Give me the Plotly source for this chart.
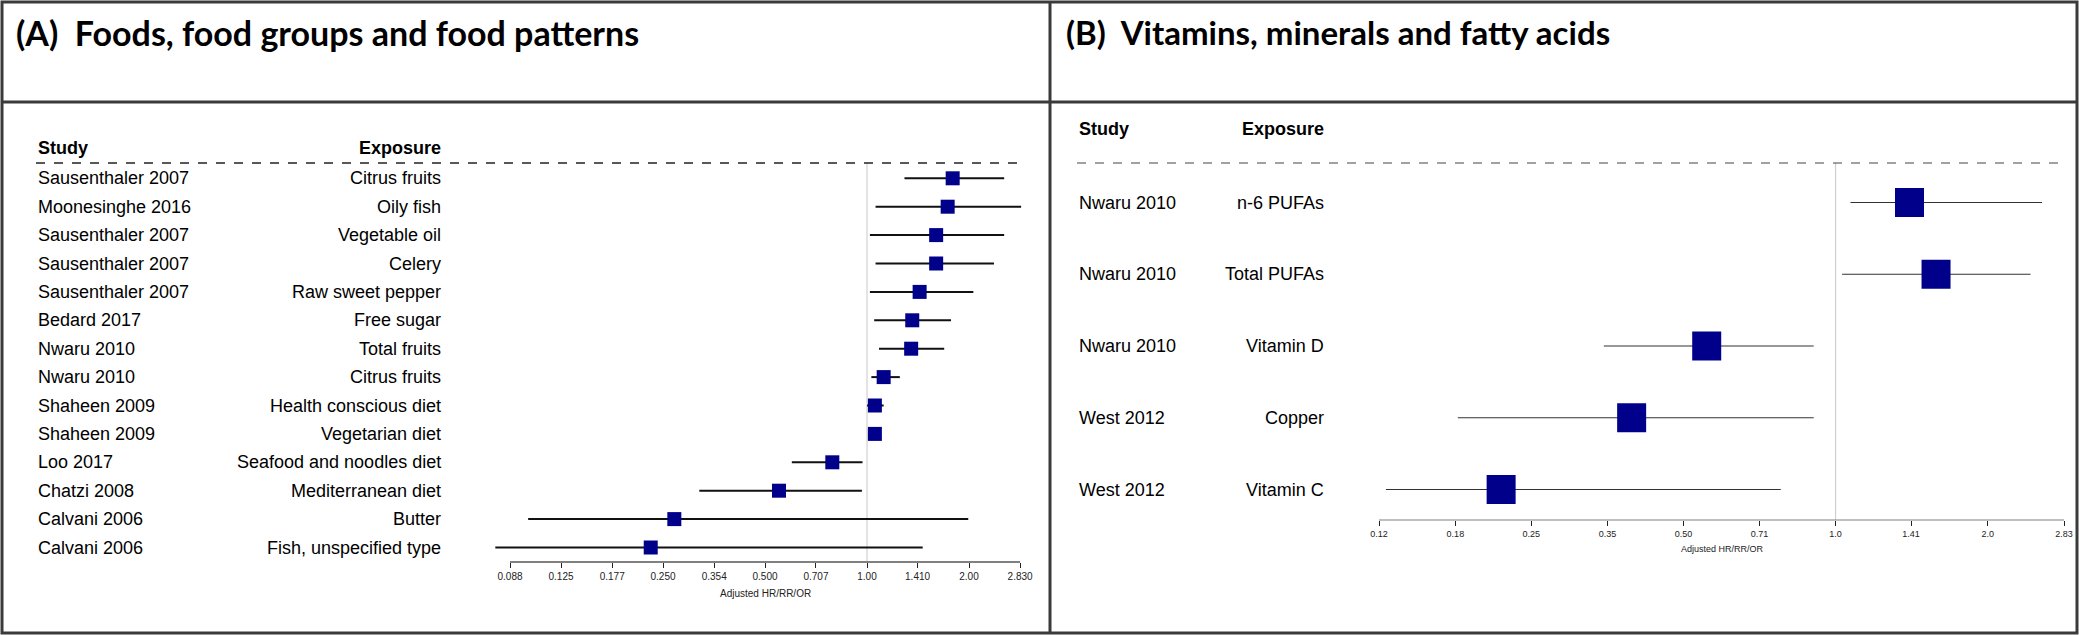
import math
import plotly.graph_objects as go

W, H = 2079, 635

# ---------------- Panel A data ----------------
a_study = ["Sausenthaler 2007", "Moonesinghe 2016", "Sausenthaler 2007", "Sausenthaler 2007",
           "Sausenthaler 2007", "Bedard 2017", "Nwaru 2010", "Nwaru 2010", "Shaheen 2009",
           "Shaheen 2009", "Loo 2017", "Chatzi 2008", "Calvani 2006", "Calvani 2006"]
a_exposure = ["Citrus fruits", "Oily fish", "Vegetable oil", "Celery", "Raw sweet pepper",
              "Free sugar", "Total fruits", "Citrus fruits", "Health conscious diet",
              "Vegetarian diet", "Seafood and noodles diet", "Mediterranean diet", "Butter",
              "Fish, unspecified type"]
a_hr = [1.79, 1.73, 1.60, 1.60, 1.43, 1.36, 1.35, 1.12, 1.055, 1.055, 0.79, 0.55, 0.27, 0.23]
a_lo = [1.29, 1.06, 1.02, 1.06, 1.02, 1.05, 1.085, 1.03, 1.00, 1.01, 0.60, 0.32, 0.10, 0.08]
a_hi = [2.54, 2.85, 2.54, 2.37, 2.06, 1.77, 1.69, 1.25, 1.12, 1.09, 0.97, 0.966, 1.99, 1.46]
a_tickvals = [0.0884, 0.125, 0.177, 0.25, 0.354, 0.5, 0.707, 1.0, 1.41, 2.0, 2.83]
a_ticktext = ["0.088", "0.125", "0.177", "0.250", "0.354", "0.500", "0.707", "1.00", "1.410", "2.00", "2.830"]

# ---------------- Panel B data ----------------
b_study = ["Nwaru 2010", "Nwaru 2010", "Nwaru 2010", "West 2012", "West 2012"]
b_exposure = ["n-6 PUFAs", "Total PUFAs", "Vitamin D", "Copper", "Vitamin C"]
b_hr = [1.40, 1.58, 0.556, 0.395, 0.218]
b_lo = [1.07, 1.03, 0.348, 0.179, 0.129]
b_hi = [2.56, 2.43, 0.905, 0.905, 0.779]
b_tickvals = [0.125, 0.177, 0.25, 0.354, 0.5, 0.707, 1.0, 1.41, 2.0, 2.83]
b_ticktext = ["0.12", "0.18", "0.25", "0.35", "0.50", "0.71", "1.0", "1.41", "2.0", "2.83"]

titles = ["(A)  Foods, food groups and food patterns", "(B)  Vitamins, minerals and fatty acids"]
axis_title = "Adjusted HR/RR/OR"

BLUE = "#00008B"
TXT = "Liberation Sans, Arial, sans-serif"
TITLEFONT = "Lato, sans-serif"


def px(x):
    return x / W


def py(y):
    return 1 - y / H


# ---- geometry (pixels) ----
a_dom = (480, 1050)
a_ppd = 102 / math.log10(2)
a_left = math.log10(0.08839) - (510 - a_dom[0]) / a_ppd
a_range = [a_left, a_left + (a_dom[1] - a_dom[0]) / a_ppd]
a_row0, a_rowstep, a_axis_y, a_top = 178.3, 28.4, 562, 163
a_yrange = [(a_axis_y - a_row0) / a_rowstep, (a_top - a_row0) / a_rowstep]

b_dom = (1340, 2072)
b_ppd = 152.2 / math.log10(2)
b_left = math.log10(0.125) - (1379 - b_dom[0]) / b_ppd
b_range = [b_left, b_left + (b_dom[1] - b_dom[0]) / b_ppd]
b_row0, b_rowstep, b_axis_y, b_top = 202.5, 71.75, 520, 163
b_yrange = [(b_axis_y - b_row0) / b_rowstep, (b_top - b_row0) / b_rowstep]

a_rows = list(range(len(a_study)))
b_rows = list(range(len(b_study)))

fig = go.Figure()

fig.add_trace(go.Scatter(
    x=a_hr, y=a_rows, mode="markers", xaxis="x", yaxis="y",
    marker=dict(symbol="square", size=14, color=BLUE, line=dict(width=0)),
    error_x=dict(type="data", symmetric=False,
                 array=[h - v for h, v in zip(a_hi, a_hr)],
                 arrayminus=[v - l for v, l in zip(a_hr, a_lo)],
                 width=0, thickness=2, color="#111111"),
    showlegend=False, hoverinfo="skip"))

fig.add_trace(go.Scatter(
    x=b_hr, y=b_rows, mode="markers", xaxis="x2", yaxis="y2",
    marker=dict(symbol="square", size=29, color=BLUE, line=dict(width=0)),
    error_x=dict(type="data", symmetric=False,
                 array=[h - v for h, v in zip(b_hi, b_hr)],
                 arrayminus=[v - l for v, l in zip(b_hr, b_lo)],
                 width=0, thickness=1.2, color="#333333"),
    showlegend=False, hoverinfo="skip"))

axis_common = dict(type="log", showgrid=False, zeroline=False, showline=False,
                   ticks="outside", ticklen=5, tickwidth=1, tickcolor="#222222",
                   tickfont=dict(family=TXT, size=10, color="#222222"), fixedrange=True)

fig.update_layout(
    width=W, height=H, margin=dict(l=0, r=0, t=0, b=0),
    paper_bgcolor="white", plot_bgcolor="rgba(0,0,0,0)",
    xaxis=dict(domain=[px(a_dom[0]), px(a_dom[1])], range=a_range,
               tickvals=a_tickvals, ticktext=a_ticktext, anchor="y", **axis_common),
    yaxis=dict(domain=[py(a_axis_y), py(a_top)], range=a_yrange, visible=False, anchor="x"),
    xaxis2=dict(domain=[px(b_dom[0]), px(b_dom[1])], range=b_range,
                tickvals=b_tickvals, ticktext=b_ticktext, anchor="y2", **axis_common),
    yaxis2=dict(domain=[py(b_axis_y), py(b_top)], range=b_yrange, visible=False, anchor="x2"),
)
fig.layout.xaxis2.tickfont.size = 9

shapes = []
shapes.append(dict(type="rect", xref="paper", yref="paper", x0=px(2), x1=px(2077), y0=py(633), y1=py(2),
                   line=dict(color="#3a3a3a", width=3)))
shapes.append(dict(type="line", xref="paper", yref="paper", x0=px(2), x1=px(2077), y0=py(102), y1=py(102),
                   line=dict(color="#3a3a3a", width=3)))
shapes.append(dict(type="line", xref="paper", yref="paper", x0=px(1050), x1=px(1050), y0=py(2), y1=py(633),
                   line=dict(color="#3a3a3a", width=3)))
shapes.append(dict(type="line", xref="paper", yref="paper", x0=px(36), x1=px(1021), y0=py(163), y1=py(163),
                   line=dict(color="#222222", width=1.5, dash="dash")))
shapes.append(dict(type="line", xref="paper", yref="paper", x0=px(1077), x1=px(2066), y0=py(163), y1=py(163),
                   line=dict(color="#444444", width=1.2, dash="dash")))
shapes.append(dict(type="line", xref="x", yref="y domain", x0=1, x1=1, y0=0, y1=1,
                   line=dict(color="#c8c8c8", width=1), layer="below"))
shapes.append(dict(type="line", xref="x2", yref="y2 domain", x0=1, x1=1, y0=0, y1=1,
                   line=dict(color="#c8c8c8", width=1), layer="below"))
shapes.append(dict(type="line", xref="x", yref="y domain", x0=a_tickvals[0], x1=a_tickvals[-1], y0=0, y1=0,
                   line=dict(color="#808080", width=2)))
shapes.append(dict(type="line", xref="x2", yref="y2 domain", x0=b_tickvals[0], x1=b_tickvals[-1], y0=0, y1=0,
                   line=dict(color="#808080", width=1.2)))

ann = []
ann.append(dict(text="<b>" + titles[0] + "</b>", xref="paper", yref="paper", x=px(14), y=py(32),
                xanchor="left", yanchor="middle", showarrow=False,
                font=dict(family=TITLEFONT, size=34, color="black")))
ann.append(dict(text="<b>" + titles[1] + "</b>", xref="paper", yref="paper", x=px(1064), y=py(32),
                xanchor="left", yanchor="middle", showarrow=False,
                font=dict(family=TITLEFONT, size=33, color="black")))
hdr_font = dict(family=TXT, size=18, color="black")
ann.append(dict(text="<b>Study</b>", xref="paper", yref="paper", x=px(36), y=py(148),
                xanchor="left", yanchor="middle", showarrow=False, font=hdr_font))
ann.append(dict(text="<b>Exposure</b>", xref="paper", yref="paper", x=px(443), y=py(148),
                xanchor="right", yanchor="middle", showarrow=False, font=hdr_font))
ann.append(dict(text="<b>Study</b>", xref="paper", yref="paper", x=px(1077), y=py(129),
                xanchor="left", yanchor="middle", showarrow=False, font=hdr_font))
ann.append(dict(text="<b>Exposure</b>", xref="paper", yref="paper", x=px(1326), y=py(129),
                xanchor="right", yanchor="middle", showarrow=False, font=hdr_font))
row_font = dict(family=TXT, size=18, color="black")
for i, (s, e) in enumerate(zip(a_study, a_exposure)):
    ann.append(dict(text=s, xref="paper", yref="y", x=px(36), y=i, xanchor="left", yanchor="middle",
                    showarrow=False, font=row_font))
    ann.append(dict(text=e, xref="paper", yref="y", x=px(443), y=i, xanchor="right", yanchor="middle",
                    showarrow=False, font=row_font))
for i, (s, e) in enumerate(zip(b_study, b_exposure)):
    ann.append(dict(text=s, xref="paper", yref="y2", x=px(1077), y=i, xanchor="left", yanchor="middle",
                    showarrow=False, font=row_font))
    ann.append(dict(text=e, xref="paper", yref="y2", x=px(1326), y=i, xanchor="right", yanchor="middle",
                    showarrow=False, font=row_font))
ann.append(dict(text=axis_title, xref="paper", yref="paper", x=px(765), y=py(593), xanchor="center",
                yanchor="middle", showarrow=False, font=dict(family=TXT, size=10, color="#222222")))
ann.append(dict(text=axis_title, xref="paper", yref="paper", x=px(1722), y=py(549), xanchor="center",
                yanchor="middle", showarrow=False, font=dict(family=TXT, size=9, color="#222222")))

fig.update_layout(shapes=shapes, annotations=ann)
fig.write_html("out.html", config={"displayModeBar": False},
               post_script="document.body.style.margin='0px';document.body.style.overflow='hidden';")
